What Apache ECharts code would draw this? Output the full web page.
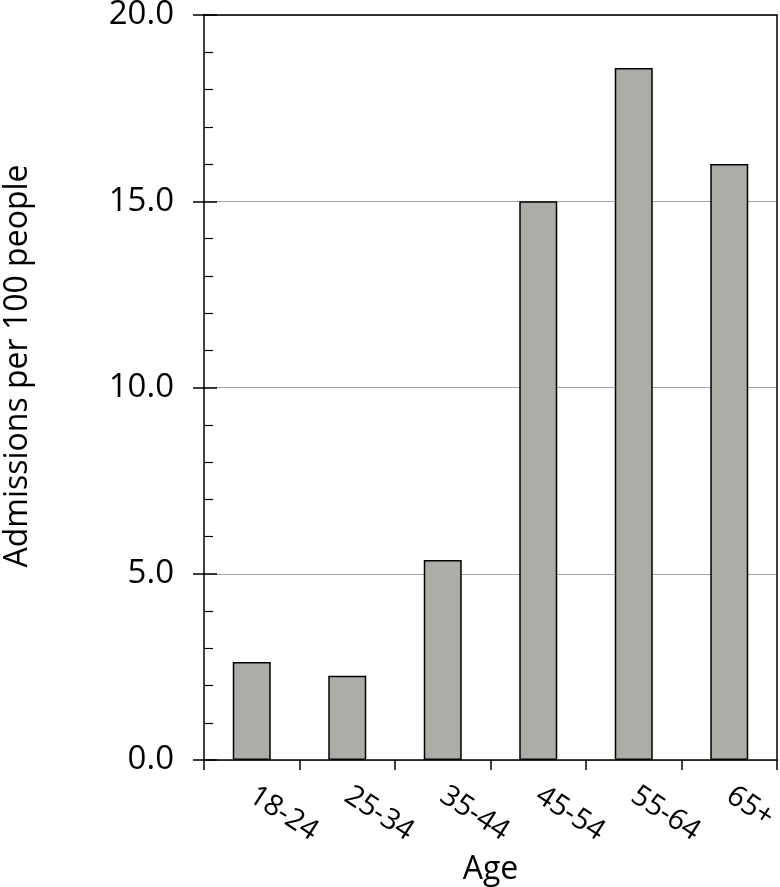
<!DOCTYPE html>
<html>
<head>
<meta charset="utf-8">
<script src="https://cdn.jsdelivr.net/npm/echarts@6/dist/echarts.min.js"></script>
<style>html,body{margin:0;padding:0;background:#fff}#c{width:780px;height:887px}</style>
</head>
<body>
<div id="c"></div>
<script>
var categories = ['18-24', '25-34', '35-44', '45-54', '55-64', '65+'];
var admissions = [2.63, 2.26, 5.37, 15.0, 18.58, 16.0];
var yTicks = [0, 5, 10, 15, 20];
var xTitle = 'Age';
var yTitle = 'Admissions per 100 people';

var FONT = '"Open Sans", sans-serif';
var chart = echarts.init(document.getElementById('c'), null, {renderer: 'canvas'});
var yMin = yTicks[0], yMax = yTicks[yTicks.length - 1];
chart.setOption({
  backgroundColor: '#ffffff',
  animation: false,
  grid: {left: 204, right: 3, top: 15, bottom: 127, outerBoundsMode: 'none', containLabel: false},
  xAxis: [{
    type: 'category',
    data: categories,
    name: xTitle,
    nameLocation: 'middle',
    nameGap: 94,
    nameMoveOverlap: false,
    nameTextStyle: {fontFamily: FONT, fontSize: 32, color: '#000'},
    axisLine: {lineStyle: {color: '#000', width: 1.5}},
    axisTick: {show: true, length: 10, lineStyle: {color: '#000', width: 1.5}},
    axisLabel: {rotate: -33, margin: 33, fontFamily: FONT, fontSize: 29, color: '#000'},
    z: 5
  }, {
    type: 'category',
    data: categories,
    position: 'top',
    axisLine: {show: true, onZero: false, lineStyle: {color: '#000', width: 1.5}},
    axisTick: {show: false},
    axisLabel: {show: false},
    z: 5
  }],
  yAxis: [{
    type: 'value',
    min: yMin,
    max: yMax,
    interval: 5,
    axisLine: {show: true, lineStyle: {color: '#000', width: 1.5}},
    axisTick: {show: true, length: 11, lineStyle: {color: '#000', width: 1.5}},
    axisLabel: {margin: 30, fontFamily: FONT, fontSize: 33, color: '#000', formatter: function (v) { return v.toFixed(1); }},
    splitLine: {show: true, lineStyle: {color: '#a6a6a6', width: 1}}
  }, {
    type: 'value',
    position: 'left',
    min: yMin,
    max: yMax,
    interval: 5,
    axisLine: {show: false},
    axisTick: {show: true, inside: true, length: 13, lineStyle: {color: '#000', width: 1.5}},
    minorTick: {show: true, splitNumber: 5, length: 9, lineStyle: {color: '#000', width: 1.2}},
    axisLabel: {show: false},
    splitLine: {show: false}
  }, {
    type: 'value',
    position: 'right',
    min: yMin,
    max: yMax,
    interval: 5,
    axisLine: {show: true, onZero: false, lineStyle: {color: '#000', width: 1.5}},
    axisTick: {show: false},
    axisLabel: {show: false},
    splitLine: {show: false}
  }],
  series: [{
    type: 'bar',
    data: admissions,
    barWidth: 38,
    itemStyle: {color: '#adada8', borderColor: '#000', borderWidth: 1.5}
  }],
  graphic: [{
    type: 'text',
    x: 18,
    y: 366,
    rotation: Math.PI / 2,
    style: {text: yTitle, fontFamily: FONT, fontSize: 32, fill: '#000', align: 'center', verticalAlign: 'middle'}
  }]
});
</script>
</body>
</html>
